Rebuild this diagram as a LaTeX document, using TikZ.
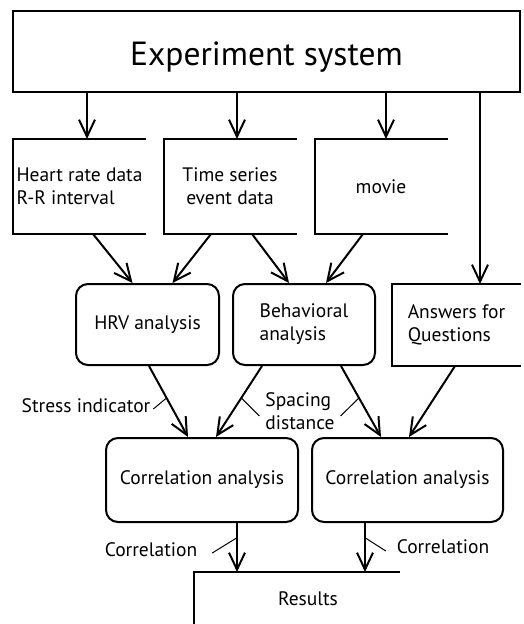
\documentclass[tikz,border=0pt]{standalone}
\usepackage{fontspec}
\setmainfont{PT Sans}
\usetikzlibrary{arrows.meta}

\begin{document}
\begin{tikzpicture}[x=1pt,y=-1pt,
        line width=2pt,
        every node/.style={font=\fontsize{19.5}{23}\selectfont,inner sep=0pt},
        sysbox/.style={draw,minimum width=507pt,minimum height=81pt,
            font=\fontsize{33.5}{38}\selectfont},
        store/.style={minimum width=131pt,minimum height=93pt,align=left},
        proc/.style={draw,rounded corners=12pt,minimum height=81pt,align=left},
        arr/.style={-{Straight Barb[length=17pt,width=16pt]}},
        lead/.style={line width=1pt}]
    \useasboundingbox (0,0) rectangle (523,624);

    \node[sysbox] (sys) at (266.5,51.5) {\raisebox{-6pt}[\height][\depth]{Experiment system}};

    % data boxes, open on the right
    \node[store] (hr)  at (79.5,186.5) {Heart rate data\\R-R interval};
    \node[store,align=center] (ts) at (230,186.5) {Time series\\event data};
    \node[store] (mv)  at (381,186.5) {movie};
    \node[store,minimum width=127pt,minimum height=80pt] (ans) at (456.5,325) {Answers for\\Questions};
    \node[store,minimum width=204pt,minimum height=51pt] (res) at (297,598.5) {\hspace{22pt}Results};
    \foreach \n in {hr,ts,mv,ans}
        \draw (\n.north east) -- (\n.north west) -- (\n.south west) -- (\n.south east);
    \draw (res.north east) -- (res.north west) -- (res.south west);

    % analysis boxes
    \node[proc,minimum width=143pt] (hrv) at (147.5,324.5) {HRV analysis};
    \node[proc,minimum width=142pt] (beh) at (304,324.5) {Behavioral\\analysis};
    \node[proc,minimum width=192pt,minimum height=84pt] (cor1) at (202,480) {Correlation analysis};
    \node[proc,minimum width=191pt,minimum height=84pt] (cor2) at (407.5,480) {Correlation analysis};

    % from the experiment system
    \draw[arr] ([xshift=7.5pt]hr.north |- sys.south) -- ([xshift=7.5pt]hr.north);
    \draw[arr] ([xshift=7pt]ts.north |- sys.south) -- ([xshift=7pt]ts.north);
    \draw[arr] ([xshift=5pt]mv.north |- sys.south) -- ([xshift=5pt]mv.north);
    \draw[arr] ([xshift=23.5pt]ans.north |- sys.south) -- ([xshift=23.5pt]ans.north);

    % into the analyses
    \draw[arr] ([xshift=13.5pt]hr.south) -- ([xshift=-15pt]hrv.north);
    \draw[arr] ([xshift=-19pt]ts.south) -- ([xshift=25pt]hrv.north);
    \draw[arr] ([xshift=22pt]ts.south) -- ([xshift=-15pt]beh.north);
    \draw[arr] ([xshift=-18pt]mv.south) -- ([xshift=22pt]beh.north);

    % into the correlations
    \draw[arr] ([xshift=1.5pt]hrv.south) -- coordinate[pos=0.45] (pStress) ([xshift=-14pt]cor1.north);
    \draw[arr] ([xshift=-42pt]beh.south) -- coordinate[pos=0.45] (pSpaceA) ([xshift=14pt]cor1.north);
    \draw[arr] ([xshift=37pt]beh.south) -- coordinate[pos=0.45] (pSpaceB) ([xshift=-26.5pt]cor2.north);
    \draw[arr] ([xshift=-1.5pt]ans.south) -- ([xshift=1.5pt]cor2.north);

    % into the results
    \draw[arr] ([xshift=35pt]cor1.south) -- coordinate[pos=0.3] (pCorA) ([xshift=-60pt]res.north);
    \draw[arr] ([xshift=-42.5pt]cor2.south) -- coordinate[pos=0.3] (pCorB) ([xshift=68pt]res.north);

    % labels
    \node (stress) at (86,406) {Stress indicator};
    \node[align=left] (spacing) at (300,411) {Spacing\\distance};
    \node (corA) at (151,550) {Correlation};
    \node (corB) at (443,547) {Correlation};
    \draw[lead] ([shift={(2pt,-3pt)}]stress.east) -- (pStress);
    \draw[lead] ([shift={(-5pt,-5pt)}]spacing.west) -- (pSpaceA);
    \draw[lead] ([shift={(5pt,-5pt)}]spacing.east) -- (pSpaceB);
    \draw[lead] ([shift={(14pt,-3pt)}]corA.east) -- (pCorA);
    \draw[lead] ([shift={(-10pt,-4pt)}]corB.west) -- (pCorB);
\end{tikzpicture}
\end{document}
